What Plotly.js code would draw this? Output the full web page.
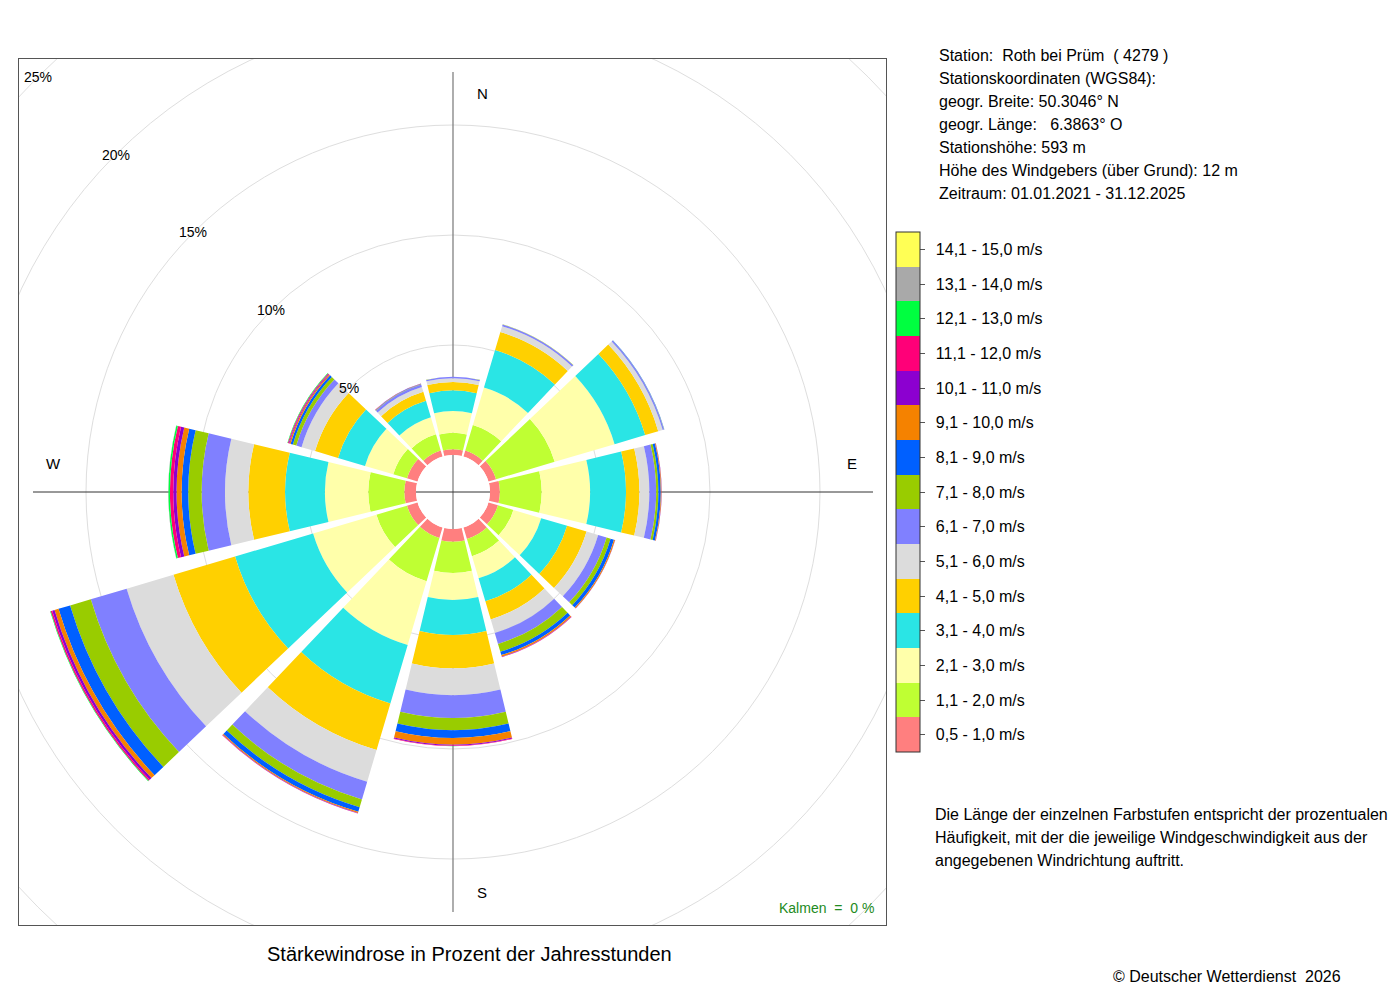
<!DOCTYPE html>
<html>
<head>
<meta charset="utf-8">
<script src="https://cdn.plot.ly/plotly-3.0.1.min.js"></script>
<style>
  html, body { margin: 0; padding: 0; background: #ffffff; }
  #chart { width: 1400px; height: 1000px; }
</style>
</head>
<body>
<div id="chart"></div>
<script>
// ---------------- DATA ----------------
const directions = [0, 30, 60, 90, 120, 150, 180, 210, 240, 270, 300, 330];

const speedClasses = [
  '0,5 - 1,0 m/s', '1,1 - 2,0 m/s', '2,1 - 3,0 m/s', '3,1 - 4,0 m/s', '4,1 - 5,0 m/s',
  '5,1 - 6,0 m/s', '6,1 - 7,0 m/s', '7,1 - 8,0 m/s', '8,1 - 9,0 m/s', '9,1 - 10,0 m/s',
  '10,1 - 11,0 m/s', '11,1 - 12,0 m/s', '12,1 - 13,0 m/s', '13,1 - 14,0 m/s', '14,1 - 15,0 m/s'
];

const classColors = [
  '#FF7F7F', '#BFFF33', '#FFFFAA', '#2AE5E5', '#FFD000',
  '#DCDCDC', '#8080FF', '#99CC00', '#0060FF', '#F58200',
  '#8C00D0', '#FF0078', '#00FF40', '#A9A9A9', '#FFFF55'
];

// percentage of year hours per direction (N, 30, 60, ... 330)
const pct_05_10  = [0.26, 0.28, 0.36, 0.45, 0.45, 0.55, 0.58, 0.50, 0.50, 0.53, 0.50, 0.28];
const pct_11_20  = [0.75, 1.22, 2.78, 1.90, 0.73, 0.81, 1.42, 2.05, 1.45, 1.64, 0.65, 0.77];
const pct_21_30  = [0.99, 1.77, 2.84, 2.20, 1.32, 1.05, 1.23, 3.02, 3.00, 1.97, 1.34, 0.81];
const pct_31_40  = [0.94, 1.78, 1.45, 1.63, 1.23, 1.09, 1.59, 2.77, 3.70, 1.81, 1.28, 0.78];
const pct_41_50  = [0.38, 0.85, 0.62, 0.61, 0.92, 0.86, 1.51, 2.21, 2.92, 1.67, 1.09, 0.43];
const pct_51_60  = [0.17, 0.28, 0.21, 0.45, 0.55, 0.64, 1.22, 1.50, 2.22, 1.06, 0.64, 0.23];
const pct_61_70  = [0.06, 0.08, 0.06, 0.31, 0.40, 0.52, 1.04, 0.84, 1.70, 1.06, 0.25, 0.11];
const pct_71_80  = [0.01, 0.01, 0.01, 0.10, 0.19, 0.37, 0.55, 0.37, 0.98, 0.61, 0.16, 0.02];
const pct_81_90  = [0.00, 0.00, 0.01, 0.11, 0.16, 0.16, 0.36, 0.22, 0.55, 0.30, 0.11, 0.01];
const pct_91_100 = [0.00, 0.00, 0.00, 0.03, 0.05, 0.07, 0.30, 0.05, 0.19, 0.23, 0.06, 0.01];
const pct_101_110= [0.00, 0.00, 0.00, 0.01, 0.01, 0.02, 0.04, 0.02, 0.11, 0.15, 0.03, 0.01];
const pct_111_120= [0.00, 0.00, 0.00, 0.00, 0.00, 0.01, 0.02, 0.01, 0.07, 0.15, 0.04, 0.005];
const pct_121_130= [0.00, 0.00, 0.00, 0.00, 0.00, 0.00, 0.005, 0.00, 0.03, 0.07, 0.02, 0.00];
const pct_131_140= [0.00, 0.00, 0.00, 0.00, 0.00, 0.00, 0.00, 0.00, 0.00, 0.01, 0.00, 0.00];
const pct_141_150= [0.00, 0.00, 0.00, 0.00, 0.00, 0.00, 0.00, 0.00, 0.00, 0.00, 0.00, 0.00];

const classValues = [pct_05_10, pct_11_20, pct_21_30, pct_31_40, pct_41_50, pct_51_60,
  pct_61_70, pct_71_80, pct_81_90, pct_91_100, pct_101_110, pct_111_120,
  pct_121_130, pct_131_140, pct_141_150];

const ringValues = [5, 10, 15, 20, 25];
const ringLabels = ['5%', '10%', '15%', '20%', '25%'];
const compassLabels = ['N', 'E', 'S', 'W'];

const stationLines = [
  'Station:  Roth bei Prüm  ( 4279 )',
  'Stationskoordinaten (WGS84):',
  'geogr. Breite: 50.3046° N',
  'geogr. Länge:   6.3863° O',
  'Stationshöhe: 593 m',
  'Höhe des Windgebers (über Grund): 12 m',
  'Zeitraum: 01.01.2021 - 31.12.2025'
];
const noteLines = [
  'Die Länge der einzelnen Farbstufen entspricht der prozentualen',
  'Häufigkeit, mit der die jeweilige Windgeschwindigkeit aus der',
  'angegebenen Windrichtung auftritt.'
];
const titleText = 'Stärkewindrose in Prozent der Jahresstunden';
const calmText = 'Kalmen  =  0 %';
const copyrightText = '© Deutscher Wetterdienst  2026';

// ---------------- LAYOUT GEOMETRY ----------------
const W = 1400, H = 1000;
const CX = 453, CY = 492;          // rose centre (px)
const HOLE_PX = 37;                // inner empty circle
const PX_PER_PCT = 22;             // radial scale
const R_MAX = 18;                  // polar radial range
const POLAR_R = HOLE_PX + PX_PER_PCT * R_MAX;   // 433
const HOLE_U = HOLE_PX / PX_PER_PCT;             // hole in percent units
const FRAME = {x0: 19, x1: 886, y0: 59, y1: 925};
const FONT = '"Liberation Sans", Arial, Helvetica, sans-serif';

const px = x => x / W;
const py = y => 1 - y / H;

// ---------------- TRACES ----------------
const traces = classValues.map((vals, i) => ({
  type: 'barpolar',
  r: vals,
  theta: directions,
  width: 27,
  name: speedClasses[i],
  marker: { color: classColors[i], line: { width: 0 } },
  hoverinfo: 'skip',
  subplot: 'polar'
}));

const colorscale = [];
classColors.forEach((c, i) => {
  colorscale.push([i / classColors.length, c]);
  colorscale.push([(i + 1) / classColors.length, c]);
});

traces.push({
  type: 'scatter',
  x: [0], y: [0],
  mode: 'markers',
  xaxis: 'x', yaxis: 'y',
  hoverinfo: 'skip',
  showlegend: false,
  marker: {
    size: 1, opacity: 0,
    color: [0], cmin: 0, cmax: classColors.length,
    colorscale: colorscale, showscale: true,
    colorbar: {
      x: px(896), xanchor: 'left', xref: 'paper',
      y: py(232), yanchor: 'top', yref: 'paper',
      len: 520, lenmode: 'pixels',
      thickness: 24, thicknessmode: 'pixels',
      xpad: 0, ypad: 0,
      outlinewidth: 1, outlinecolor: '#333333',
      borderwidth: 0,
      tickmode: 'array',
      tickvals: speedClasses.map((_, i) => i + 0.5),
      ticktext: speedClasses.map(s => '\u00A0\u2009' + s),
      ticks: 'outside', ticklen: 5, tickwidth: 1, tickcolor: '#555555',
      tickfont: { family: FONT, size: 16, color: '#000000' }
    }
  }
});

// ---------------- SHAPES ----------------
const shapes = [];
ringValues.forEach(v => {
  const rr = HOLE_U + v;
  shapes.push({
    type: 'circle', xref: 'x', yref: 'y', layer: 'below',
    x0: -rr, x1: rr, y0: -rr, y1: rr,
    line: { color: '#DEDEDE', width: 1 }
  });
});
const AXIS_HALF = 420 / PX_PER_PCT;
shapes.push({ type: 'line', xref: 'x', yref: 'y', layer: 'below',
  x0: 0, x1: 0, y0: -AXIS_HALF, y1: AXIS_HALF, line: { color: '#777777', width: 1.2 } });
shapes.push({ type: 'line', xref: 'x', yref: 'y', layer: 'below',
  x0: -AXIS_HALF, x1: AXIS_HALF, y0: 0, y1: 0, line: { color: '#333333', width: 1 } });

// ---------------- ANNOTATIONS ----------------
const annotations = [];
ringValues.forEach((v, i) => {
  const rr = HOLE_U + v;
  annotations.push({
    xref: 'x', yref: 'y', x: -rr * Math.SQRT1_2, y: rr * Math.SQRT1_2,
    text: ringLabels[i], showarrow: false, xanchor: 'center', yanchor: 'middle',
    font: { family: FONT, size: 14, color: '#000000' }
  });
});
const compassPos = [[482, 94], [852, 464], [482, 892], [53, 464]];
compassLabels.forEach((t, i) => {
  annotations.push({
    xref: 'paper', yref: 'paper', x: px(compassPos[i][0]), y: py(compassPos[i][1]),
    text: t, showarrow: false, xanchor: 'center', yanchor: 'middle',
    font: { family: FONT, size: 15, color: '#000000' }
  });
});
stationLines.forEach((t, i) => {
  annotations.push({
    xref: 'paper', yref: 'paper', x: px(937), y: py(55 + i * 23.15),
    text: t, showarrow: false, xanchor: 'left', yanchor: 'middle',
    font: { family: FONT, size: 16, color: '#000000' }
  });
});
noteLines.forEach((t, i) => {
  annotations.push({
    xref: 'paper', yref: 'paper', x: px(933), y: py(814 + i * 23),
    text: t, showarrow: false, xanchor: 'left', yanchor: 'middle',
    font: { family: FONT, size: 16, color: '#000000' }
  });
});
annotations.push({
  xref: 'paper', yref: 'paper', x: px(470), y: py(954),
  text: titleText, showarrow: false, xanchor: 'center', yanchor: 'middle',
  font: { family: FONT, size: 20, color: '#000000' }
});
annotations.push({
  xref: 'paper', yref: 'paper', x: px(876), y: py(908),
  text: calmText, showarrow: false, xanchor: 'right', yanchor: 'middle',
  font: { family: FONT, size: 14, color: '#228B22' }
});
annotations.push({
  xref: 'paper', yref: 'paper', x: px(1227), y: py(976),
  text: copyrightText, showarrow: false, xanchor: 'center', yanchor: 'middle',
  font: { family: FONT, size: 16, color: '#000000' }
});

// ---------------- LAYOUT ----------------
const layout = {
  width: W, height: H,
  margin: { l: 0, r: 0, t: 0, b: 0, pad: 0 },
  paper_bgcolor: '#ffffff',
  plot_bgcolor: 'rgba(0,0,0,0)',
  showlegend: false,
  font: { family: FONT, color: '#000000' },
  xaxis: {
    domain: [px(FRAME.x0), px(FRAME.x1)],
    range: [(FRAME.x0 - CX) / PX_PER_PCT, (FRAME.x1 - CX) / PX_PER_PCT],
    showgrid: false, zeroline: false, showticklabels: false, ticks: '',
    showline: true, mirror: true, linecolor: '#555555', linewidth: 1, fixedrange: true
  },
  yaxis: {
    domain: [py(FRAME.y1), py(FRAME.y0)],
    range: [(CY - FRAME.y1) / PX_PER_PCT, (CY - FRAME.y0) / PX_PER_PCT],
    showgrid: false, zeroline: false, showticklabels: false, ticks: '',
    showline: true, mirror: true, linecolor: '#555555', linewidth: 1, fixedrange: true
  },
  polar: {
    domain: { x: [px(CX - POLAR_R), px(CX + POLAR_R)], y: [py(CY + POLAR_R), py(CY - POLAR_R)] },
    hole: HOLE_PX / POLAR_R,
    bgcolor: 'rgba(0,0,0,0)',
    barmode: 'stack',
    radialaxis: { range: [0, R_MAX], visible: false, showgrid: false },
    angularaxis: { rotation: 90, direction: 'clockwise', visible: false, showgrid: false }
  },
  shapes: shapes,
  annotations: annotations
};

Plotly.newPlot('chart', traces, layout, { staticPlot: true, displayModeBar: false });
</script>
</body>
</html>
